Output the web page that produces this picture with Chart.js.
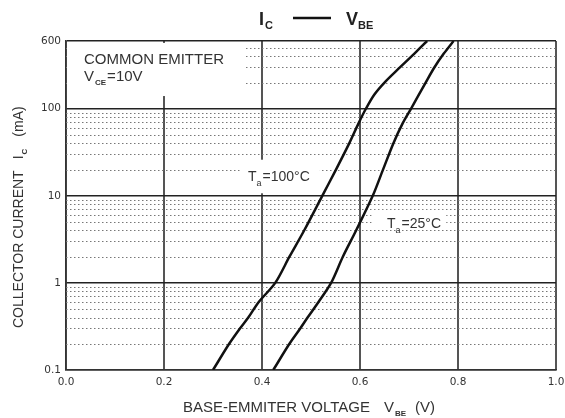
<!DOCTYPE html>
<html>
<head>
<meta charset="utf-8">
<script src="https://cdn.jsdelivr.net/npm/chart.js@4.4.1/dist/chart.umd.min.js"></script>
<style>
  html, body { margin: 0; padding: 0; background: #fff; }
  #wrap { width: 565px; height: 418px; }
</style>
</head>
<body>
<div id="wrap"><canvas id="chart" width="565" height="418"></canvas></div>
<script>
// values
const ic100 = [0.1, 0.2, 0.3, 0.4, 0.6, 1, 2, 4, 10, 20, 40, 68, 100, 145, 200, 300, 430, 600];
const vbe100 = [0.300, 0.333, 0.355, 0.372, 0.393, 0.427, 0.456, 0.486, 0.523, 0.551, 0.578, 0.597, 0.612, 0.629, 0.650, 0.682, 0.711, 0.737];
const ic25 = [0.1, 0.2, 0.3, 0.4, 0.6, 1, 2, 4, 10, 20, 40, 68, 100, 200, 300, 430, 600];
const vbe25 = [0.423, 0.456, 0.478, 0.493, 0.515, 0.541, 0.565, 0.592, 0.626, 0.647, 0.668, 0.687, 0.704, 0.734, 0.752, 0.771, 0.791];

const xTicks = [0, 0.2, 0.4, 0.6, 0.8, 1.0];
const xTickLabels = ["0.0", "0.2", "0.4", "0.6", "0.8", "1.0"];
const yTicks = [0.1, 1, 10, 100, 600];
const yTickLabels = ["0.1", "1", "10", "100", "600"];
const yMinor = [0.2, 0.3, 0.4, 0.5, 0.6, 0.7, 0.8, 0.9,
                2, 3, 4, 5, 6, 7, 8, 9,
                20, 30, 40, 50, 60, 70, 80, 90,
                200, 300, 400, 500];

const FONT = "'Liberation Sans', Arial, sans-serif";
const INK = "#222";

function toPts(xs, ys) {
    return xs.map((x, i) => ({ x: x, y: ys[i] }));
}

// draws a run of text pieces one after another (for subscripts)
function drawRun(ctx, parts, x, y) {
    let cx = x;
    parts.forEach(p => {
        ctx.font = p.font;
        cx += p.gap || 0;
        ctx.fillText(p.t, cx, y + (p.dy || 0));
        cx += ctx.measureText(p.t).width;
    });
}

const overlay = {
    id: "overlay",
    beforeDatasetsDraw(chart) {
        const ctx = chart.ctx;
        const xs = chart.scales.x, ys = chart.scales.y;
        const a = chart.chartArea;

        // dotted minor grid
        ctx.save();
        ctx.strokeStyle = "#777";
        ctx.lineWidth = 1;
        ctx.setLineDash([1.5, 2.5]);
        yMinor.forEach(v => {
            const py = Math.round(ys.getPixelForValue(v)) + 0.5;
            ctx.beginPath();
            ctx.moveTo(a.left, py);
            ctx.lineTo(a.right, py);
            ctx.stroke();
        });
        ctx.restore();

        // white patches behind the labels
        ctx.save();
        ctx.fillStyle = "#fff";
        const patch = (x0, x1, y0, y1) => {
            const l = xs.getPixelForValue(x0), r = xs.getPixelForValue(x1);
            const t = ys.getPixelForValue(y0), b = ys.getPixelForValue(y1);
            ctx.fillRect(l, t, r - l, b - t);
        };
        patch(0.002, 0.364, 570, 140);
        patch(0.355, 0.518, 26, 10.7);
        patch(0.624, 0.776, 6.9, 4.3);
        ctx.restore();
    },
    afterDraw(chart) {
        const ctx = chart.ctx;
        ctx.save();
        ctx.fillStyle = INK;
        ctx.textBaseline = "alphabetic";
        ctx.textAlign = "left";

        // title  IC —— VBE
        drawRun(ctx, [
            { t: "I", font: "bold 18px " + FONT },
            { t: "C", font: "bold 11px " + FONT, dy: 4, gap: 1 }
        ], 259, 25);
        ctx.strokeStyle = "#111";
        ctx.lineWidth = 2.5;
        ctx.beginPath();
        ctx.moveTo(293, 18);
        ctx.lineTo(331, 18);
        ctx.stroke();
        drawRun(ctx, [
            { t: "V", font: "bold 18px " + FONT },
            { t: "BE", font: "bold 11px " + FONT, dy: 4 }
        ], 346, 25);

        // box text
        ctx.fillStyle = "#333";
        drawRun(ctx, [{ t: "COMMON EMITTER", font: "15px " + FONT }], 84, 64);
        drawRun(ctx, [
            { t: "V", font: "15px " + FONT },
            { t: "CE", font: "bold 8px " + FONT, dy: 4, gap: 1 },
            { t: "=10V", font: "15px " + FONT, gap: 1 }
        ], 84, 81);

        // curve labels
        drawRun(ctx, [
            { t: "T", font: "14px " + FONT },
            { t: "a", font: "9px " + FONT, dy: 5 },
            { t: "=100°C", font: "14px " + FONT, gap: 1 }
        ], 248, 181);
        drawRun(ctx, [
            { t: "T", font: "14px " + FONT },
            { t: "a", font: "9px " + FONT, dy: 5 },
            { t: "=25°C", font: "14px " + FONT, gap: 1 }
        ], 387, 228);

        // x axis title
        drawRun(ctx, [
            { t: "BASE-EMMITER VOLTAGE", font: "15px " + FONT },
            { t: "V", font: "15px " + FONT, gap: 14 },
            { t: "BE", font: "bold 8px " + FONT, dy: 4, gap: 1 },
            { t: "(V)", font: "15px " + FONT, gap: 9 }
        ], 183, 412);

        // y axis title (rotated)
        ctx.translate(23, 328);
        ctx.rotate(-Math.PI / 2);
        drawRun(ctx, [
            { t: "COLLECTOR CURRENT", font: "14px " + FONT },
            { t: "I", font: "14px " + FONT, gap: 11 },
            { t: "C", font: "bold 8px " + FONT, dy: 4, gap: 1 },
            { t: "(mA)", font: "14px " + FONT, gap: 12 }
        ], 0, 0);
        ctx.restore();
    }
};

const tickFont = { family: "'DejaVu Sans', sans-serif", size: 10.5 };

new Chart(document.getElementById("chart"), {
    type: "scatter",
    data: {
        datasets: [{
            label: "Ta=100°C",
            data: toPts(vbe100, ic100),
            showLine: true,
            borderColor: "#111",
            borderWidth: 2.5,
            pointRadius: 0,
            tension: 0.3
        }, {
            label: "Ta=25°C",
            data: toPts(vbe25, ic25),
            showLine: true,
            borderColor: "#111",
            borderWidth: 2.5,
            pointRadius: 0,
            tension: 0.3
        }]
    },
    options: {
        responsive: false,
        animation: false,
        events: [],
        layout: { padding: { top: 41, right: 9, left: 0, bottom: 0 } },
        plugins: {
            legend: { display: false },
            tooltip: { enabled: false },
            title: { display: false }
        },
        scales: {
            x: {
                type: "linear",
                min: 0,
                max: 1,
                afterBuildTicks: s => { s.ticks = xTicks.map(v => ({ value: v })); },
                afterFit: s => { s.height = 48; s.paddingRight = 0; s.paddingLeft = 0; },
                grid: { color: "#555", lineWidth: 2, drawTicks: false },
                border: { color: "#333", width: 1.5 },
                ticks: {
                    padding: 6,
                    color: "#333",
                    font: tickFont,
                    maxRotation: 0,
                    callback: (v, i) => xTickLabels[i]
                }
            },
            y: {
                type: "logarithmic",
                min: 0.1,
                max: 600,
                afterBuildTicks: s => { s.ticks = yTicks.map(v => ({ value: v })); },
                afterFit: s => { s.width = 66; s.paddingTop = 0; s.paddingBottom = 0; },
                grid: { color: "#222", lineWidth: 1.4, drawTicks: false },
                border: { color: "#333", width: 1.5 },
                ticks: {
                    padding: 5,
                    color: "#333",
                    font: tickFont,
                    callback: (v, i) => yTickLabels[i]
                }
            }
        }
    },
    plugins: [overlay]
});
</script>
</body>
</html>
